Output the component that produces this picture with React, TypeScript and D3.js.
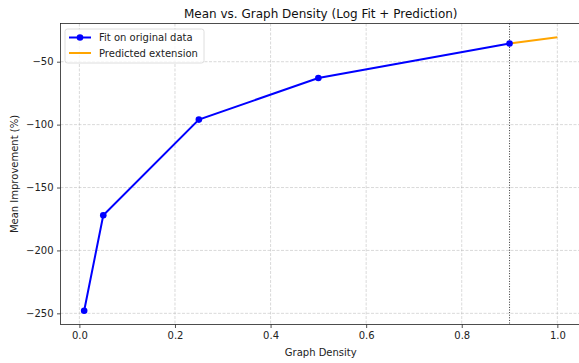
import { useEffect, useRef } from "react";
import * as d3 from "d3";

// values
const densities = [0.01, 0.05, 0.25, 0.5, 0.9];
const improvements = [-248, -172, -96, -63, -35.5];
const extDensities = [0.9, 1.0];
const extImprovements = [-35.5, -30.5];
const xTicks = [0, 0.2, 0.4, 0.6, 0.8, 1.0];
const yTicks = [-250, -200, -150, -100, -50];
const cutoff = 0.9;

export default function App() {
  const svgRef = useRef<SVGSVGElement | null>(null);

  useEffect(() => {
    if (!svgRef.current) return;
    const svg = d3.select(svgRef.current);
    svg.selectAll("*").remove();

    const width = 579;
    const height = 363;
    const left = 60.5;
    const right = 581;
    const top = 23.5;
    const bottom = 324.5;
    const font = "DejaVu Sans, sans-serif";

    const allX = [...densities, ...extDensities];
    const allY = [...improvements, ...extImprovements];
    const [x0, x1] = d3.extent(allX) as [number, number];
    const [y0, y1] = d3.extent(allY) as [number, number];
    const xPad = (x1 - x0) * 0.05;
    const yPad = (y1 - y0) * 0.05;

    const x = d3.scaleLinear().domain([x0 - xPad, x1 + xPad]).range([left, right]);
    const y = d3.scaleLinear().domain([y0 - yPad, y1 + yPad]).range([bottom, top]);

    svg.attr("width", width).attr("height", height);
    svg.append("rect").attr("width", width).attr("height", height).attr("fill", "#fff");

    // grid
    const grid = svg.append("g").attr("stroke", "#b0b0b0").attr("stroke-opacity", 0.6)
      .attr("stroke-width", 0.8).attr("stroke-dasharray", "3,1.5");
    xTicks.forEach((t) => {
      grid.append("line").attr("x1", x(t)).attr("x2", x(t)).attr("y1", top).attr("y2", bottom);
    });
    yTicks.forEach((t) => {
      grid.append("line").attr("x1", left).attr("x2", right).attr("y1", y(t)).attr("y2", y(t));
    });

    // axes
    const xAxis = svg.append("g").attr("transform", `translate(0,${bottom})`)
      .call(d3.axisBottom(x).tickValues(xTicks).tickFormat(d3.format(".1f")).tickSize(3.5).tickPadding(3.5));
    const yAxis = svg.append("g").attr("transform", `translate(${left},0)`)
      .call(d3.axisLeft(y).tickValues(yTicks).tickFormat((d) => String(d).replace("-", "\u2212")).tickSize(3.5).tickPadding(3.5));
    [xAxis, yAxis].forEach((a) => {
      a.select(".domain").remove();
      a.selectAll("text").attr("font-family", font).attr("font-size", 10).attr("fill", "#222");
      a.selectAll("line").attr("stroke", "#222").attr("stroke-width", 0.8);
    });

    // cutoff marker
    svg.append("line").attr("x1", x(cutoff)).attr("x2", x(cutoff)).attr("y1", top).attr("y2", bottom)
      .attr("stroke", "#333").attr("stroke-width", 1).attr("stroke-dasharray", "1,1.6");

    const fitLine = d3.line<[number, number]>().x((d) => x(d[0])).y((d) => y(d[1]));

    svg.append("path")
      .datum(extDensities.map((d, i) => [d, extImprovements[i]] as [number, number]))
      .attr("d", fitLine).attr("fill", "none").attr("stroke", "orange").attr("stroke-width", 2);

    const pts = densities.map((d, i) => [d, improvements[i]] as [number, number]);
    svg.append("path").datum(pts).attr("d", fitLine)
      .attr("fill", "none").attr("stroke", "#0000ff").attr("stroke-width", 2);
    svg.append("g").selectAll("circle").data(pts).join("circle")
      .attr("cx", (d) => x(d[0])).attr("cy", (d) => y(d[1])).attr("r", 3.3).attr("fill", "#0000ff");

    // frame
    svg.append("rect").attr("x", left).attr("y", top).attr("width", right - left).attr("height", bottom - top)
      .attr("fill", "none").attr("stroke", "#222").attr("stroke-width", 0.8);

    // legend
    const lg = svg.append("g").attr("transform", "translate(65,29)");
    lg.append("rect").attr("width", 139).attr("height", 34).attr("rx", 2.5)
      .attr("fill", "#fff").attr("fill-opacity", 0.8).attr("stroke", "#d6d6d6").attr("stroke-width", 0.8);
    lg.append("line").attr("x1", 4).attr("x2", 26).attr("y1", 8.5).attr("y2", 8.5)
      .attr("stroke", "#0000ff").attr("stroke-width", 2);
    lg.append("circle").attr("cx", 15).attr("cy", 8.5).attr("r", 3.3).attr("fill", "#0000ff");
    lg.append("line").attr("x1", 4).attr("x2", 26).attr("y1", 24).attr("y2", 24)
      .attr("stroke", "orange").attr("stroke-width", 2);
    lg.append("text").attr("x", 34).attr("y", 12).text("Fit on original data");
    lg.append("text").attr("x", 34).attr("y", 27.5).text("Predicted extension");
    lg.selectAll("text").attr("font-family", font).attr("font-size", 10).attr("fill", "#222");

    // labels
    svg.append("text").attr("x", (left + right) / 2).attr("y", 18).attr("text-anchor", "middle")
      .attr("font-family", font).attr("font-size", 12).attr("fill", "#111")
      .text("Mean vs. Graph Density (Log Fit + Prediction)");
    svg.append("text").attr("x", (left + right) / 2).attr("y", 355.5).attr("text-anchor", "middle")
      .attr("font-family", font).attr("font-size", 10).attr("fill", "#222").text("Graph Density");
    svg.append("text").attr("transform", `translate(18,${(top + bottom) / 2}) rotate(-90)`)
      .attr("text-anchor", "middle").attr("font-family", font).attr("font-size", 10).attr("fill", "#222")
      .text("Mean Improvement (%)");
  }, []);

  return (
    <svg ref={svgRef} width={579} height={363} style={{ position: "absolute", left: 0, top: 0 }} />
  );
}
